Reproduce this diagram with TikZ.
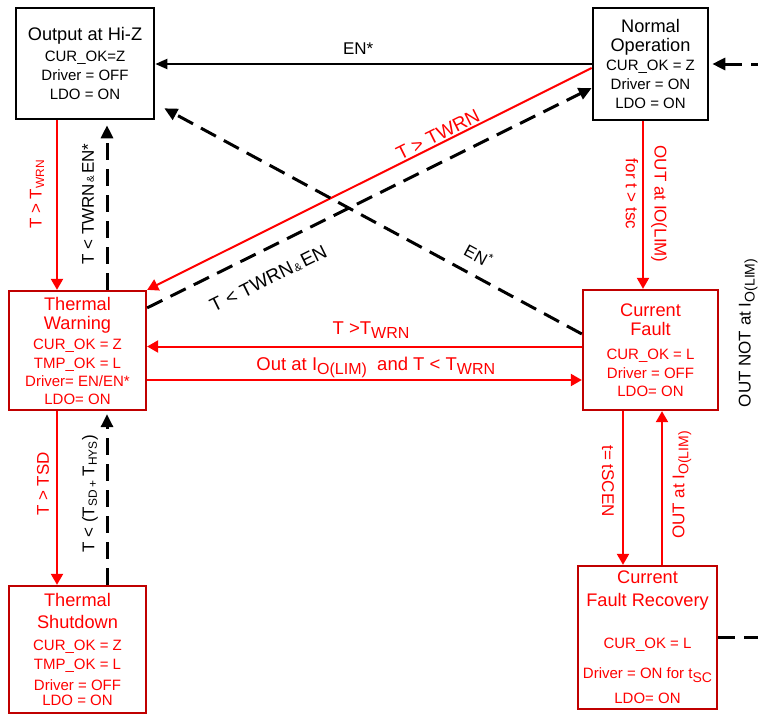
\documentclass[tikz,border=0pt]{standalone}
\usepackage{fontspec}
\setmainfont{Liberation Sans}
\usepackage{xcolor}
\usepackage{tikz}
\usetikzlibrary{arrows.meta}
\usetikzlibrary{positioning}

\definecolor{boxred}{RGB}{192,0,0}
\newcommand{\hdr}[1]{{\fontsize{18.2}{19}\selectfont #1}}
\newcommand{\lowsub}[2]{\raisebox{-4pt}{\fontsize{#1}{#1}\selectfont #2}}

\begin{document}
\begin{tikzpicture}[x=1pt, y=-1pt]
    \tikzstyle{every node}=[font=\fontsize{15}{19}\selectfont]
    \tikzstyle{state}=[draw=black, line width=2.6pt, align=center, inner sep=0pt]
    \tikzstyle{warnstate}=[state, draw=boxred, line width=2.3pt, text=red]
    \tikzstyle{blkgo}=[-{Triangle[length=12pt,width=10pt]}, line width=2pt]
    \tikzstyle{redgo}=[-{Triangle[length=11pt,width=12pt]}, line width=2pt, red]
    \tikzstyle{back}=[-{Triangle[length=13pt,width=12pt]}, line width=3pt, dash pattern=on 17pt off 9pt]
    \tikzstyle{lab}=[font=\fontsize{17}{17}\selectfont, inner sep=1.5pt]
    \tikzstyle{hlab}=[font=\fontsize{18.5}{18.5}\selectfont, inner sep=1pt]
    \tikzstyle{dlab}=[font=\fontsize{19}{19}\selectfont, inner sep=1.5pt]
    \useasboundingbox (0,0) rectangle (758,715);
    \clip (0,0) rectangle (758,715);

    \node[state, minimum width=138pt, minimum height=111pt] (hiz) at (85,63.5)
      {\hdr{Output at Hi-Z}\\[2pt]CUR\_OK=Z\\Driver = OFF\\LDO = ON};
    \node[state, minimum width=115pt, minimum height=112pt] (norm) at (650.5,64)
      {\hdr{Normal}\\\hdr{Operation}\\CUR\_OK = Z\\Driver = ON\\LDO = ON};
    \node[warnstate, minimum width=137pt, minimum height=119pt] (warn) at (77.5,350.5)
      {\hdr{Thermal}\\\hdr{Warning}\\[1pt]CUR\_OK = Z\\TMP\_OK = L\\[-1pt]Driver= EN/EN*\\[-1pt]LDO= ON};
    \node[warnstate, minimum width=135pt, minimum height=120pt] (cf) at (650.5,350)
      {\hdr{Current}\\\hdr{Fault}\\[5pt]CUR\_OK = L\\Driver = OFF\\[-1pt]LDO= ON};
    \node[warnstate, minimum width=137pt, minimum height=127pt] (shut) at (77.5,649.5)
      {\hdr{Thermal}\\[3pt]\hdr{Shutdown}\\[3pt]CUR\_OK = Z\\TMP\_OK = L\\[2pt]Driver = OFF\\[-4pt]LDO = ON};
    \node[warnstate, minimum width=139pt, minimum height=143pt] (rec) at (647.5,637.5)
      {\hdr{Current}\\[4pt]\hdr{Fault Recovery}\\[23pt]CUR\_OK = L\\[11pt]Driver = ON for t\lowsub{14}{SC}\\[6pt]LDO= ON};

    % top row
    \draw[blkgo] (norm.west) -- (norm.west -| hiz.east)
      node[pos=0.535, above=7pt, lab] {EN*};

    % left column
    \draw[redgo] ([xshift=-28pt]hiz.south) -- ([xshift=-28pt]hiz.south |- warn.north)
      node[pos=0.436, xshift=-20pt, rotate=90, lab] {T > T\textsubscript{WRN}};
    \draw[back, shorten >=5pt] ([xshift=29.5pt]warn.north) -- ([xshift=29.5pt]warn.north |- hiz.south)
      node[pos=0.506, xshift=-19pt, rotate=90, lab] {T < TWRN{\fontsize{10}{10}\selectfont\,\&\,}EN*};
    \draw[redgo] ([xshift=-20.5pt]warn.south) -- ([xshift=-20.5pt]warn.south |- shut.north)
      node[pos=0.42, xshift=-14pt, rotate=90, lab] {T > TSD};
    \draw[back, shorten >=3pt] ([xshift=29.5pt]shut.north) -- ([xshift=29.5pt]shut.north |- warn.south)
      node[pos=0.523, xshift=-17pt, rotate=90, lab] {T < (T\textsubscript{SD + }T\textsubscript{HYS})};

    % right column
    \draw[redgo] ([xshift=-7.5pt]norm.south) -- ([xshift=-7.5pt]norm.south |- cf.north)
      node[pos=0.494, xshift=16pt, rotate=-90, lab] {OUT at IO(LIM)}
      node[pos=0.435, xshift=-11pt, rotate=-90, lab] {for t > tsc};
    \draw[redgo] ([xshift=-27.5pt]cf.south) -- ([xshift=-27.5pt]cf.south |- rec.north)
      node[pos=0.455, xshift=-15pt, rotate=-90, lab] {t= tSCEN};
    \draw[redgo] ([xshift=14.5pt]rec.north) -- ([xshift=14.5pt]rec.north |- cf.south)
      node[pos=0.52, xshift=20pt, rotate=90, lab] {OUT at I\lowsub{14}{O(LIM)}};

    % middle
    \draw[redgo] ([yshift=3.5pt]cf.west) -- ([yshift=3.5pt]cf.west -| warn.east)
      node[pos=0.485, above=6pt, hlab] {T >T\lowsub{16}{WRN}};
    \draw[redgo] ([yshift=-29.5pt]warn.east) -- ([yshift=-29.5pt]warn.east -| cf.west)
      node[pos=0.526, above, hlab] {Out at I\lowsub{16}{O(LIM)}\ \ and T < T\lowsub{16}{WRN}};

    % diagonals
    \draw[redgo] ([yshift=-4pt]norm.west) -- (warn.north east)
      node[pos=0.337, sloped, above, dlab] {T > TWRN};
    \draw[back] ([yshift=-18pt]warn.north east) -- ([yshift=-24pt]norm.west)
      node[pos=0.245, sloped, below=18pt, dlab] {T < TWRN{\fontsize{11}{11}\selectfont\,\&\,}EN};
    \draw[back] ([yshift=16pt]cf.west) -- ([shift={(9pt,12pt)}]hiz.south east)
      node[pos=0.27, sloped, above=10pt, lab] {EN\textsuperscript{*}};

    % recovery loop back to normal
    \draw[back, shorten >=3pt] (rec.east) -- ++(63,0) coordinate (lpb) -- (lpb |- norm.east)
      node[pos=0.531, xshift=-33pt, rotate=90, lab] {OUT NOT at I\lowsub{14}{O(LIM)}} -- (norm.east);
\end{tikzpicture}
\end{document}
